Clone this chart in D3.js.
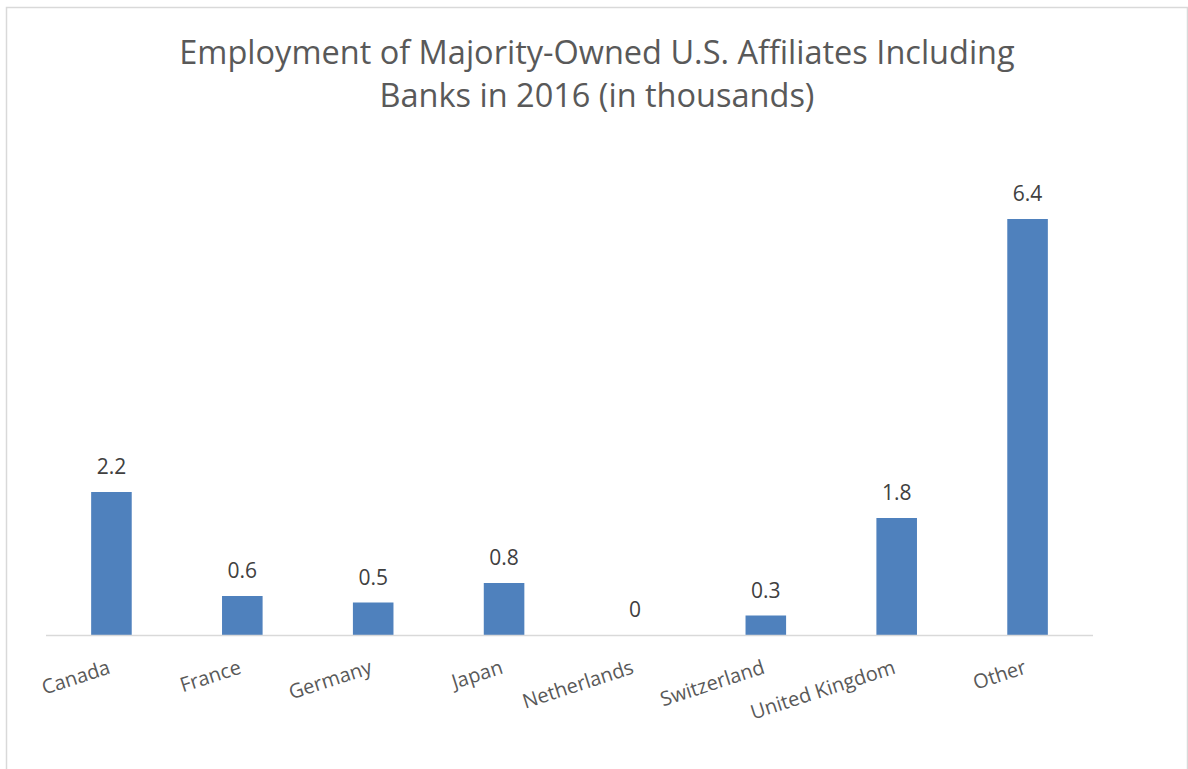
<!DOCTYPE html>
<html>
<head>
<meta charset="utf-8">
<script src="https://cdn.jsdelivr.net/npm/d3@7"></script>
<style>
	body { margin: 0; background: #fff; }
	svg { display: block; font-family: "Open Sans", sans-serif; }
</style>
</head>
<body>
<div id="chart-area"></div>
<script>

// Chart data
let countries = ["Canada", "France", "Germany", "Japan", "Netherlands", "Switzerland", "United Kingdom", "Other"];
let employment = [2.2, 0.6, 0.5, 0.8, 0, 0.3, 1.8, 6.4];
let titleLines = ["Employment of Majority-Owned U.S. Affiliates Including", "Banks in 2016 (in thousands)"];

let width = 1188, height = 769;

let svg = d3.select("#chart-area").append("svg")
	.attr("width", width)
	.attr("height", height);

// chart frame
svg.append("rect")
	.attr("x", 6.5)
	.attr("y", 7.5)
	.attr("width", 1181)
	.attr("height", 800)
	.attr("fill", "#fff")
	.attr("stroke", "#d9d9d9")
	.attr("stroke-width", 1.5);

// Title
svg.append("g")
	.selectAll("text")
	.data(titleLines)
	.enter().append("text")
	.attr("x", 597)
	.attr("y", (d, i) => 64 + i * 43)
	.attr("text-anchor", "middle")
	.attr("font-size", "32.5px")
	.attr("fill", "#595959")
	.text(d => d);

// Scales
let x = d3.scaleBand()
	.domain(countries)
	.range([46, 1093])
	.paddingInner(0.69)
	.paddingOuter(0.345);

let y = d3.scaleLinear()
	.domain([0, 7])
	.range([635, 180]);

let data = countries.map((c, i) => ({country: c, value: employment[i]}));

// Bars
svg.selectAll(".bar")
	.data(data)
	.enter().append("rect")
	.attr("class", "bar")
	.attr("x", d => x(d.country))
	.attr("y", d => y(d.value))
	.attr("width", x.bandwidth())
	.attr("height", d => y(0) - y(d.value))
	.attr("fill", "#4f81bd");

// Data labels
svg.selectAll(".bar-text")
	.data(data)
	.enter().append("text")
	.attr("class", "bar-text")
	.attr("x", d => x(d.country) + x.bandwidth() / 2)
	.attr("y", d => y(d.value) - 18)
	.attr("text-anchor", "middle")
	.attr("font-size", "21px")
	.attr("fill", "#404040")
	.text(d => d.value);

// x axis
let xAxis = d3.axisBottom(x).tickSize(0).tickPadding(0);

let xAxisG = svg.append("g")
	.attr("class", "x-axis")
	.attr("transform", "translate(0," + y(0) + ")")
	.call(xAxis);

xAxisG.select(".domain")
	.attr("d", "M46,0.5H1093")
	.attr("stroke", "#d9d9d9")
	.attr("stroke-width", 1.5);

xAxisG.selectAll(".tick text")
	.attr("font-family", "Open Sans, sans-serif")
	.attr("font-size", "20px")
	.attr("fill", "#595959")
	.attr("text-anchor", "end")
	.attr("dy", 0)
	.attr("y", 0)
	.attr("transform", "translate(0,38) rotate(-18)");

</script>
</body>
</html>
